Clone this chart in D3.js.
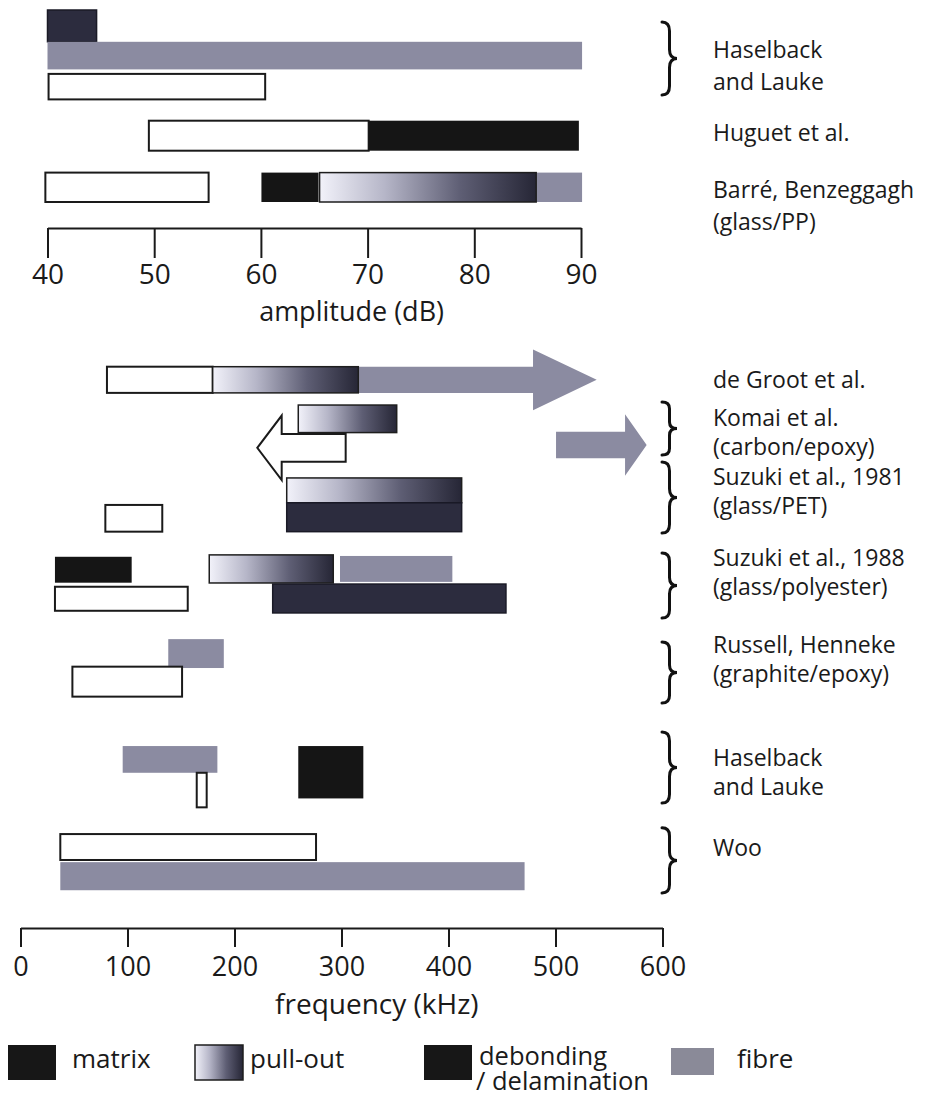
<!DOCTYPE html>
<html><head><meta charset="utf-8">
<script src="https://cdn.jsdelivr.net/npm/d3@7"></script>
<style>
body{margin:0;background:#fff}
svg{display:block}
text{font-family:"Open Sans",sans-serif;fill:#1a1a1a}
</style>
</head><body>
<svg id="c" width="925" height="1098"></svg>
<script>
// ---------------- DATA ----------------
const ampTicks = [40, 50, 60, 70, 80, 90];
const freqTicks = [0, 100, 200, 300, 400, 500, 600];

// amplitude chart (dB): mechanism, from, to, lane start, lane end
const ampSegments = [
  {study:"Haselback and Lauke", mech:"delamination", from:40,   to:44.6, l0:0,    l1:1.06},
  {study:"Haselback and Lauke", mech:"fibre",        from:40,   to:90.1, l0:1.06, l1:1.98},
  {study:"Haselback and Lauke", mech:"matrix",       from:40.1, to:60.4, l0:2.13, l1:2.98},
  {study:"Huguet et al.",       mech:"matrix",       from:49.5, to:70.1, l0:3.69, l1:4.69},
  {study:"Huguet et al.",       mech:"debonding",    from:70.1, to:89.8, l0:3.69, l1:4.69},
  {study:"Barré, Benzeggagh",   mech:"matrix",       from:39.8, to:55.1, l0:5.42, l1:6.40},
  {study:"Barré, Benzeggagh",   mech:"debonding",    from:60.05,to:65.4, l0:5.42, l1:6.40},
  {study:"Barré, Benzeggagh",   mech:"fibre",        from:85.8, to:90.1, l0:5.42, l1:6.40},
  {study:"Barré, Benzeggagh",   mech:"pullout",      from:65.5, to:85.8, l0:5.42, l1:6.40}
];
const ampLabels = [
  {lines:["Haselback","and Lauke"], lane:1.33, brace:[0.4, 2.83]},
  {lines:["Huguet et al."], lane:4.1, brace:null},
  {lines:["Barré, Benzeggagh","(glass/PP)"], lane:6.0, brace:null}
];

// frequency chart (kHz)
const freqArrows = [
  {study:"de Groot et al.", mech:"fibre",  from:315.7, to:479,   tip:538.5, l0:0,    l1:0.97},
  {study:"Komai et al.",    mech:"matrix", from:303.9, to:244.1, tip:221.3, l0:2.49, l1:3.52},
  {study:"Komai et al.",    mech:"fibre",  from:500.5, to:565,   tip:585.2, l0:2.41, l1:3.39}
];
const freqSegments = [
  {study:"de Groot et al.",     mech:"matrix",       from:80.8,  to:179.6, l0:0,     l1:0.97},
  {study:"de Groot et al.",     mech:"pullout",      from:179.6, to:315.7, l0:0,     l1:0.97},
  {study:"Komai et al.",        mech:"pullout",      from:259.6, to:351.6, l0:1.42,  l1:2.44},
  {study:"Suzuki et al., 1981", mech:"pullout",      from:248.8, to:412.3, l0:4.12,  l1:5.04},
  {study:"Suzuki et al., 1981", mech:"delamination", from:248.8, to:412.3, l0:5.04,  l1:6.11},
  {study:"Suzuki et al., 1981", mech:"matrix",       from:79.3,  to:132.5, l0:5.12,  l1:6.11},
  {study:"Suzuki et al., 1988", mech:"debonding",    from:32.2,  to:103.9, l0:7.04,  l1:8.0},
  {study:"Suzuki et al., 1988", mech:"pullout",      from:176.4, to:292.3, l0:6.97,  l1:8.01},
  {study:"Suzuki et al., 1988", mech:"fibre",        from:298.6, to:403.6, l0:7.01,  l1:7.97},
  {study:"Suzuki et al., 1988", mech:"matrix",       from:32.2,  to:156.3, l0:8.15,  l1:9.04},
  {study:"Suzuki et al., 1988", mech:"delamination", from:235.7, to:453.7, l0:8.05,  l1:9.12},
  {study:"Russell, Henneke",    mech:"fibre",        from:138.1, to:190,   l0:10.09, l1:11.16},
  {study:"Russell, Henneke",    mech:"matrix",       from:48.5,  to:151,   l0:11.11, l1:12.22},
  {study:"Haselback and Lauke", mech:"fibre",        from:95.5,  to:184,   l0:14.05, l1:15.04},
  {study:"Haselback and Lauke", mech:"matrix",       from:164.7, to:174,   l0:15.04, l1:16.32},
  {study:"Haselback and Lauke", mech:"debonding",    from:259.6, to:320.4, l0:14.05, l1:15.99},
  {study:"Woo",                 mech:"matrix",       from:37.2,  to:276.2, l0:17.31, l1:18.27},
  {study:"Woo",                 mech:"fibre",        from:37.2,  to:471.1, l0:18.35, l1:19.39}
];
const freqLabels = [
  {lines:["de Groot et al."], lane:0.49, brace:null},
  {lines:["Komai et al.","(carbon/epoxy)"], lane:1.9, brace:[1.31, 3.27]},
  {lines:["Suzuki et al., 1981","(glass/PET)"], lane:4.09, brace:[3.53, 6.16]},
  {lines:["Suzuki et al., 1988","(glass/polyester)"], lane:7.09, brace:[6.9, 9.31]},
  {lines:["Russell, Henneke","(graphite/epoxy)"], lane:10.31, brace:[10.2, 12.46]},
  {lines:["Haselback","and Lauke"], lane:14.49, brace:[13.53, 16.16]},
  {lines:["Woo"], lane:17.83, brace:[17.08, 19.49]}
];

const legendItems = [
  {key:"matrix", lines:["matrix"]},
  {key:"pullout", lines:["pull-out"]},
  {key:"debonding", lines:["debonding","/ delamination"]},
  {key:"fibre", lines:["fibre"]}
];

// ---------------- STYLE ----------------
const fills = {matrix:"#ffffff", debonding:"#151515", delamination:"#2c2c3e", pullout:"url(#pull)", fibre:"#8b8ba1"};
const strokes = {matrix:"#1a1a1a", debonding:"none", delamination:"#1a1a26", pullout:"#1e1e1e", fibre:"none"};
const legendFills = {matrix:"#171717", pullout:"url(#pull)", debonding:"#171717", fibre:"#8a8a98"};

const svg = d3.select("#c");
const defs = svg.append("defs");
const grad = defs.append("linearGradient").attr("id","pull").attr("x1",0).attr("x2",1).attr("y1",0).attr("y2",0);
[[0,"#f2f2fa"],[0.3,"#b6b6c8"],[0.65,"#5e5e74"],[1,"#262636"]].forEach(s=>
  grad.append("stop").attr("offset",s[0]).attr("stop-color",s[1]));

// ---------------- SCALES ----------------
const xAmp = d3.scaleLinear().domain([40,90]).range([47.5,581]);
const yAmp = d3.scaleLinear().domain([0,1]).range([10,40]);
const xFreq = d3.scaleLinear().domain([0,600]).range([20.5,662.5]);
const yFreq = d3.scaleLinear().domain([0,1]).range([366.7,393.7]);

function drawSegments(g, data, x, y){
  g.selectAll("rect").data(data).join("rect")
    .attr("x", d=>x(Math.min(d.from,d.to)))
    .attr("width", d=>Math.abs(x(d.to)-x(d.from)))
    .attr("y", d=>y(d.l0))
    .attr("height", d=>y(d.l1)-y(d.l0))
    .attr("fill", d=>fills[d.mech])
    .attr("stroke", d=>strokes[d.mech])
    .attr("stroke-width", d=>d.mech==="matrix"?2:1.5);
}
function arrowPath(d, x, y){
  const x0=x(d.from), xb=x(d.to), xt=x(d.tip);
  const yt=y(d.l0), yb=y(d.l1), ext=(yb-yt)*0.66, ym=(yt+yb)/2;
  return `M${x0},${yt}L${xb},${yt}L${xb},${yt-ext}L${xt},${ym}L${xb},${yb+ext}L${xb},${yb}L${x0},${yb}Z`;
}
function bracePath(x0, ya, yb){
  const w=15, m=(ya+yb)/2, xs=x0+w*0.5, r=Math.min(9,(yb-ya)/8);
  return `M${x0},${ya}Q${xs},${ya} ${xs},${ya+r}L${xs},${m-r}Q${xs},${m} ${x0+w},${m}`+
         `Q${xs},${m} ${xs},${m+r}L${xs},${yb-r}Q${xs},${yb} ${x0},${yb}`;
}
function drawLabels(g, data, y, lineGap){
  const grp = g.selectAll("g.lab").data(data).join("g").attr("class","lab");
  grp.each(function(d){
    const s=d3.select(this);
    const t = s.append("text").attr("font-size",23);
    d.lines.forEach((line,i)=>{
      t.append("tspan").attr("x",713).attr("y",y(d.lane)+8+i*lineGap).text(line);
    });
    if(d.brace){
      s.append("path").attr("d",bracePath(662,y(d.brace[0]),y(d.brace[1])))
        .attr("fill","none").attr("stroke","#111").attr("stroke-width",3).attr("stroke-linecap","round");
    }
  });
}
function styleAxis(g, size){
  g.select(".domain").attr("stroke","#1a1a1a").attr("stroke-width",2.2);
  g.selectAll(".tick line").attr("stroke","#1a1a1a").attr("stroke-width",2);
  g.selectAll(".tick text").attr("font-size",size).attr("fill","#1a1a1a").attr("font-family","Open Sans");
}

// ---------------- TOP CHART ----------------
const ampG = svg.append("g");
drawSegments(ampG.append("g"), ampSegments, xAmp, yAmp);
drawLabels(ampG.append("g"), ampLabels, yAmp, 32);
const axT = ampG.append("g").attr("transform","translate(0,228)")
  .call(d3.axisBottom(xAmp).tickValues(ampTicks).tickSize(30).tickSizeOuter(0).tickPadding(6));
styleAxis(axT, 28);
ampG.append("text").attr("x",xAmp(68.5)).attr("y",321).attr("text-anchor","middle")
  .attr("font-size",27).text("amplitude (dB)");

// ---------------- BOTTOM CHART ----------------
const freqG = svg.append("g");
freqG.append("g").selectAll("path").data(freqArrows).join("path")
  .attr("d", d=>arrowPath(d, xFreq, yFreq))
  .attr("fill", d=>fills[d.mech])
  .attr("stroke", d=>d.mech==="matrix"?"#1a1a1a":"none")
  .attr("stroke-width",2).attr("stroke-linejoin","miter");
drawSegments(freqG.append("g"), freqSegments, xFreq, yFreq);
drawLabels(freqG.append("g"), freqLabels, yFreq, 29);
const axB = freqG.append("g").attr("transform","translate(0,928)")
  .call(d3.axisBottom(xFreq).tickValues(freqTicks).tickSize(19).tickSizeOuter(0).tickPadding(10));
styleAxis(axB, 27);
freqG.append("text").attr("x",xFreq(333)).attr("y",1014).attr("text-anchor","middle")
  .attr("font-size",28).text("frequency (kHz)");

// ---------------- LEGEND ----------------
const legendSwatchX = {matrix:8, pullout:195, debonding:424, fibre:671};
const leg = svg.append("g");
legendItems.forEach(d=>{
  const x0 = legendSwatchX[d.key];
  const sw = d.key==="fibre"?{w:43,y:1048,h:27}:{w:48,y:1045,h:35};
  leg.append("rect").attr("x",x0).attr("y",sw.y).attr("width",sw.w).attr("height",sw.h)
    .attr("fill",legendFills[d.key])
    .attr("stroke",d.key==="pullout"?"#1e1e1e":"none").attr("stroke-width",1.5);
  const tx = x0+sw.w+(d.key==="fibre"?23:(d.key==="matrix"?16:7));
  const multi = d.lines.length>1;
  const t = leg.append("text").attr("font-size",multi?25.5:26);
  d.lines.forEach((line,i)=>{
    t.append("tspan").attr("x",tx-(i?3:0)).attr("y",(multi?1065:1068)+i*25).text(line);
  });
});
</script>
</body></html>
